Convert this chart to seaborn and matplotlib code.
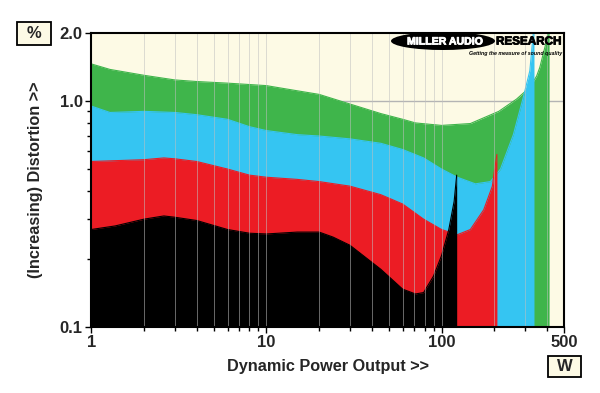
import numpy as np
import pandas as pd
import matplotlib
matplotlib.use('Agg')
import matplotlib.pyplot as plt
import matplotlib.patheffects as pe
from matplotlib.patches import Rectangle, Ellipse
from matplotlib.ticker import FixedLocator, FixedFormatter, NullFormatter
import seaborn as sns

# Datos (W, %)
green_x = [1, 1.28, 2, 3, 4, 6, 10, 14, 20, 30, 45, 60, 71, 100, 146, 212, 268, 319, 349, 364, 398, 405, 411]
green_y = [1.46, 1.38, 1.30, 1.24, 1.22, 1.20, 1.17, 1.12, 1.07, 0.97, 0.88, 0.83, 0.80, 0.78, 0.795, 0.90, 1.02, 1.15, 1.29, 1.41, 1.86, 2.0, 2.0]

blue_x = [1, 1.28, 2, 3, 4, 6, 8, 10, 15, 20, 30, 45, 60, 79, 100, 123, 156, 190, 217, 257, 292, 319, 334, 337]
blue_y = [0.95, 0.89, 0.90, 0.89, 0.87, 0.83, 0.77, 0.74, 0.71, 0.70, 0.68, 0.65, 0.61, 0.56, 0.50, 0.46, 0.43, 0.44, 0.50, 0.71, 1.03, 1.36, 2.0, 2.0]

red_x = [1, 2, 2.6, 3, 4, 6, 8, 10, 15, 20, 30, 45, 60, 79, 100, 123, 146, 174, 195, 200, 207]
red_y = [0.54, 0.55, 0.56, 0.555, 0.54, 0.50, 0.47, 0.46, 0.45, 0.44, 0.42, 0.385, 0.35, 0.30, 0.27, 0.256, 0.27, 0.33, 0.42, 0.487, 0.58]

black_x = [1, 1.37, 2, 2.6, 3, 4, 6, 8, 10, 15, 20, 24, 30, 45, 60, 71, 79, 90, 100, 110, 118, 122]
black_y = [0.27, 0.28, 0.30, 0.31, 0.306, 0.296, 0.27, 0.26, 0.258, 0.263, 0.263, 0.25, 0.23, 0.18, 0.147, 0.14, 0.142, 0.168, 0.207, 0.27, 0.36, 0.47]

x_major = [1, 10, 100, 500]
x_major_labels = ['1', '10', '100', '500']
x_minor = [2, 3, 4, 5, 6, 7, 8, 9, 20, 30, 40, 50, 60, 70, 80, 90, 200, 300, 400]
y_major = [0.1, 1.0, 2.0]
y_major_labels = ['0.1', '1.0', '2.0']
y_minor = [0.2, 0.3, 0.4, 0.5, 0.6, 0.7, 0.8, 0.9]

series = [
    ('green', green_x, green_y, '#3fb54b'),
    ('blue', blue_x, blue_y, '#35c5f2'),
    ('red', red_x, red_y, '#ec1c24'),
    ('black', black_x, black_y, '#000000'),
]

sns.set_style('white')
plt.rcParams['font.family'] = ['Liberation Sans', 'DejaVu Sans']
plt.rcParams['font.weight'] = 'bold'

cream = '#fdfae5'
fig = plt.figure(figsize=(6, 3.93), dpi=100)
ax = fig.add_axes([0.152, 0.168, 0.788, 0.748])
ax.set_facecolor(cream)
ax.set_xscale('log')
ax.set_yscale('log')

# linea horizontal en 1.0 (por debajo de las areas)
ax.axhline(1.0, color='#b4b4b4', lw=1.0, zorder=1)

for i, (name, xs, ys, col) in enumerate(series):
    df = pd.DataFrame({'x': xs, 'y': ys})
    ax.fill_between(df['x'], 0.1, df['y'], color=col, lw=0, zorder=2 + i)
    sns.lineplot(data=df, x='x', y='y', ax=ax, color=col, lw=0.8,
                 estimator=None, sort=False, zorder=2 + i)

# rejilla vertical por encima de las areas
for xv in x_minor + [10, 100]:
    ax.axvline(xv, color='#c0c0c0', lw=0.7, alpha=0.55, zorder=8)

ax.set_xlim(1, 500)
ax.set_ylim(0.1, 2.0)
ax.xaxis.set_major_locator(FixedLocator(x_major))
ax.xaxis.set_major_formatter(FixedFormatter(x_major_labels))
ax.xaxis.set_minor_locator(FixedLocator(x_minor))
ax.xaxis.set_minor_formatter(NullFormatter())
ax.yaxis.set_major_locator(FixedLocator(y_major))
ax.yaxis.set_major_formatter(FixedFormatter(y_major_labels))
ax.yaxis.set_minor_locator(FixedLocator(y_minor))
ax.yaxis.set_minor_formatter(NullFormatter())

ax.tick_params(which='major', direction='out', length=4, width=1, color='black',
               labelsize=12, pad=2, bottom=True, left=True)
ax.tick_params(which='minor', direction='out', length=3, width=1, color='black',
               bottom=True, left=True)
for lab in ax.get_xticklabels() + ax.get_yticklabels():
    lab.set_fontweight('bold')

for sp in ax.spines.values():
    sp.set_color('black')
    sp.set_linewidth(1.5)
    sp.set_zorder(10)

ax.set_xlabel('Dynamic Power Output >>', fontsize=11.7, fontweight='bold', labelpad=6)
ax.set_ylabel('(Increasing) Distortion >>', fontsize=11.7, fontweight='bold', labelpad=12)

# cajas de unidades
fig.add_artist(Rectangle((17 / 600, 1 - 45 / 393), 34 / 600, 23 / 393,
                         transform=fig.transFigure, fc=cream, ec='black', lw=1.3))
fig.text(34 / 600, 1 - 33.5 / 393, '%', ha='center', va='center',
         fontsize=12, fontweight='bold')
fig.add_artist(Rectangle((548 / 600, 1 - 377 / 393), 33 / 600, 21 / 393,
                         transform=fig.transFigure, fc=cream, ec='black', lw=1.3))
fig.text(564.5 / 600, 1 - 366.5 / 393, 'W', ha='center', va='center',
         fontsize=12, fontweight='bold')

# logo
fig.add_artist(Ellipse((443 / 600, 1 - 41 / 393), 104 / 600, 18 / 393,
                       transform=fig.transFigure, fc='black', ec='none', zorder=20))
fig.text(445 / 600, 1 - 41.5 / 393, 'MILLER AUDIO', ha='center', va='center',
         color='white', fontsize=7.6, fontweight='bold', zorder=21,
         path_effects=[pe.withStroke(linewidth=0.6, foreground='white')])
fig.text(496 / 600, 1 - 41.5 / 393, 'RESEARCH', ha='left', va='center',
         color='black', fontsize=8.4, fontweight='bold', zorder=21,
         path_effects=[pe.withStroke(linewidth=0.6, foreground='black')])
fig.text(562 / 600, 1 - 53.5 / 393, 'Getting the measure of sound quality', ha='right',
         va='center', color='black', fontsize=3.8, fontweight='bold',
         style='italic', zorder=21)

fig.savefig('out.png', dpi=100, facecolor='white')
